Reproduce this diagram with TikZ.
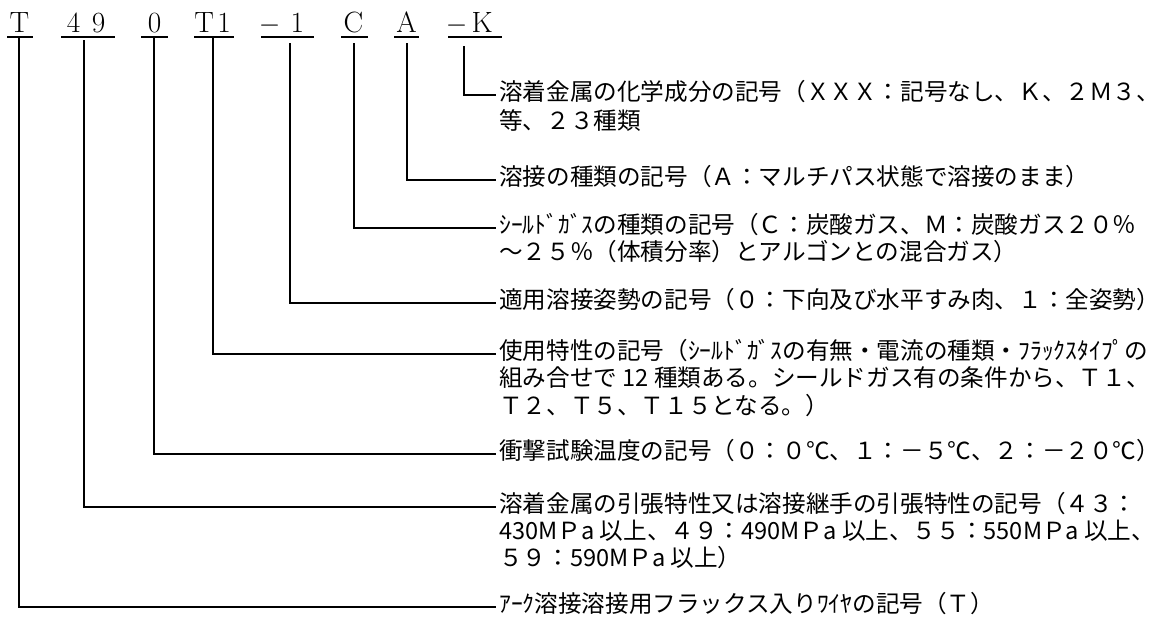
\documentclass[tikz,border=0pt]{standalone}
\usepackage{fontspec}
\newfontfamily\jp{Noto Sans CJK JP}
\tikzset{
  code/.style={inner sep=0pt, anchor=base west, font=\fontsize{22pt}{26pt}\selectfont},
  uline/.style={line width=1.5pt},
  conn/.style={line width=1.15pt},
  desc/.style={inner sep=0pt, anchor=west, text height=0.88em, text depth=0.12em,
               font=\jp\fontsize{17.7pt}{21pt}\selectfont}
}
\begin{document}
\begin{tikzpicture}[x=0.75pt,y=-0.75pt]
\useasboundingbox (0,0) rectangle (1168,619);
% code labels
\node[code] (lT)  at (9.4,32) {T};
\node[code] (l49) at (66.7,32) {4\hspace{8.5pt}9};
\node[code] (l0)  at (147.7,32) {0};
\node[code] (lT1) at (194,32) {T\hspace{2.6pt}1};
\node[code] (lm1) at (258.6,32) {$-$\hspace{7.7pt}1};
\node[code] (lC)  at (343.4,32) {C};
\node[code] (lA)  at (396,32) {A};
\node[code] (lK)  at (445.6,32) {$-$\hspace{3.2pt}K};
% underlines
\draw[uline] (7,37) -- (33,37);
\draw[uline] (61,37) -- (115,37);
\draw[uline] (141,37) -- (168,37);
\draw[uline] (194,37) -- (234,37);
\draw[uline] (261,37) -- (314,37);
\draw[uline] (341,37) -- (368,37);
\draw[uline] (394,37) -- (419,37);
\draw[uline] (448,37) -- (502,37);
% connector starts
\coordinate (cT)  at (19,37);
\coordinate (c49) at (84,40);
\coordinate (c0)  at (154,37);
\coordinate (cT1) at (213,37);
\coordinate (cm1) at (290,43);
\coordinate (cC)  at (354,43);
\coordinate (cA)  at (407,43);
\coordinate (cK)  at (464,46);
% descriptions
\node[desc] (tK)   at (499,95)  {溶着金属の化学成分の記号（ＸＸＸ：記号なし、Ｋ、２Ｍ３、};
\node[desc] (tK2)  at (499,124) {等、２３種類};
\node[desc] (tA)   at (499,180) {溶接の種類の記号（Ａ：マルチパス状態で溶接のまま）};
\node[desc] (tC)   at (499,228) {ｼｰﾙﾄﾞｶﾞｽの種類の記号（Ｃ：炭酸ガス、Ｍ：炭酸ガス２０％};
\node[desc] (tC2)  at (499,255) {～２５％（体積分率）とアルゴンとの混合ガス）};
\node[desc] (tm1)  at (499,303) {適用溶接姿勢の記号（０：下向及び水平すみ肉、１：全姿勢）};
\node[desc] (tT1)  at (499,354) {使用特性の記号（ｼｰﾙﾄﾞｶﾞｽの有無・電流の種類・ﾌﾗｯｸｽﾀｲﾌﾟの};
\node[desc] (tT1b) at (499,381) {組み合せで 12 種類ある。シールドガス有の条件から、Ｔ１、};
\node[desc] (tT1c) at (499,409) {Ｔ２、Ｔ５、Ｔ１５となる。）};
\node[desc] (t0)   at (499,454) {衝撃試験温度の記号（０：０℃、１：－５℃、２：－２０℃）};
\node[desc] (t49)  at (499,507) {溶着金属の引張特性又は溶接継手の引張特性の記号（４３：};
\node[desc] (t49b) at (499,534) {430MＰa 以上、４９：490MＰa 以上、５５：550MＰa 以上、};
\node[desc] (t49c) at (499,561) {５９：590MＰa 以上）};
\node[desc] (tT)   at (499,607) {ｱｰｸ溶接溶接用フラックス入りﾜｲﾔの記号（Ｔ）};
% connectors
\draw[conn] (cK)  |- ([xshift=-2pt]tK.west);
\draw[conn] (cA)  |- ([xshift=-2pt]tA.west);
\draw[conn] (cC)  |- ([xshift=-2pt]tC.west);
\draw[conn] (cm1) |- ([xshift=-2pt]tm1.west);
\draw[conn] (cT1) |- ([xshift=-2pt]tT1.west);
\draw[conn] (c0)  |- ([xshift=-2pt]t0.west);
\draw[conn] (c49) |- ([xshift=-2pt]t49.west);
\draw[conn] (cT)  |- ([xshift=-2pt]tT.west);
\end{tikzpicture}
\end{document}
